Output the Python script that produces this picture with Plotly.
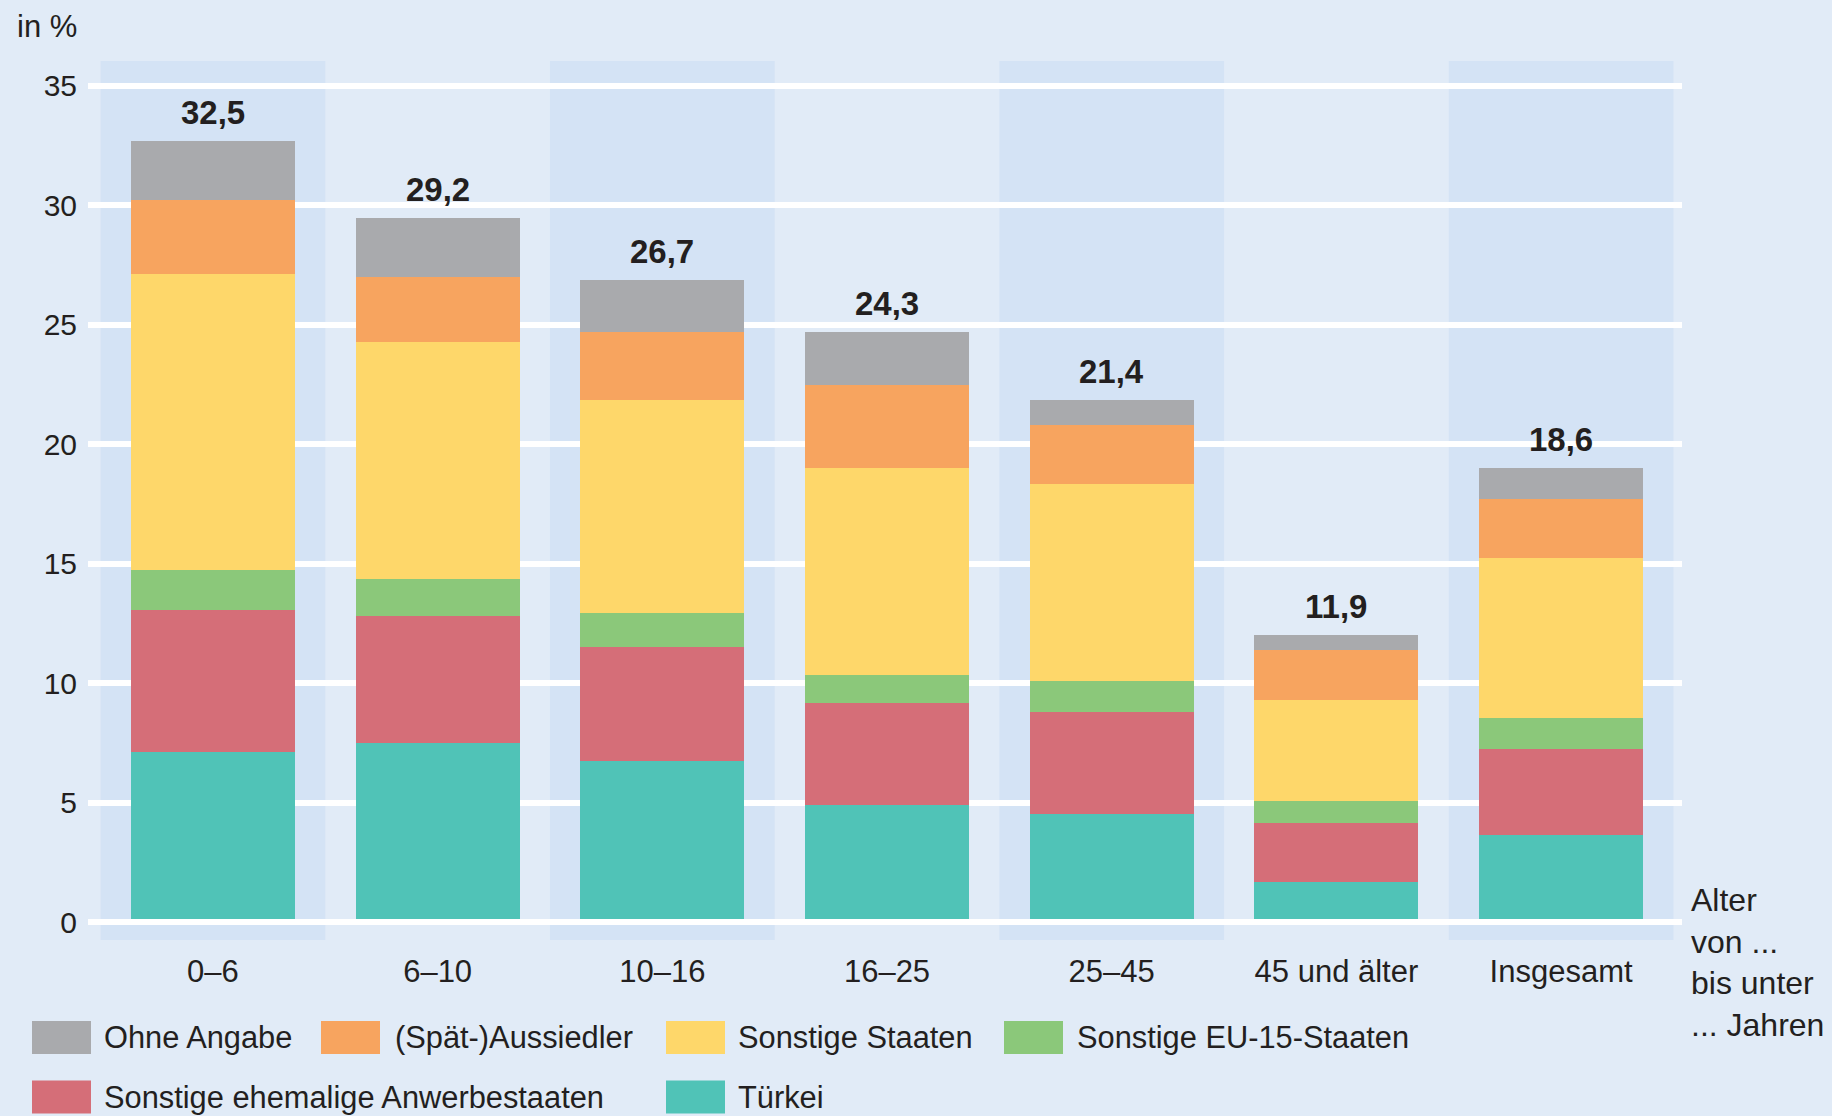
import plotly.graph_objects as go

# ---------------- data ----------------
categories = ["0–6", "6–10", "10–16", "16–25", "25–45", "45 und älter", "Insgesamt"]
tuerkei = [7.13, 7.49, 6.74, 4.90, 4.52, 1.67, 3.64]
anwerbestaaten = [5.92, 5.31, 4.77, 4.26, 4.27, 2.47, 3.60]
eu15 = [1.68, 1.55, 1.42, 1.17, 1.29, 0.92, 1.30]
sonstige_staaten = [12.38, 9.92, 8.91, 8.67, 8.25, 4.23, 6.69]
aussiedler = [3.10, 2.70, 2.85, 3.46, 2.45, 2.09, 2.47]
ohne_angabe = [2.47, 2.49, 2.17, 2.23, 1.06, 0.63, 1.30]
totals = [32.5, 29.2, 26.7, 24.3, 21.4, 11.9, 18.6]
y_ticks = [0, 5, 10, 15, 20, 25, 30, 35]

series_names = ["Türkei", "Sonstige ehemalige Anwerbestaaten", "Sonstige EU-15-Staaten",
                "Sonstige Staaten", "(Spät-)Aussiedler", "Ohne Angabe"]
series_values = [tuerkei, anwerbestaaten, eu15, sonstige_staaten, aussiedler, ohne_angabe]
series_colors = ["#50C3B7", "#D56E78", "#8BC87A", "#FED76A", "#F7A45F", "#A9AAAD"]

# ---------------- style ----------------
FONT = "Liberation Sans, Arial, sans-serif"
TXT = "#231F20"
BG = "#E1EBF7"
BAND = "#D4E3F5"
W, H = 1832, 1116
ML, MR, MT, MB = 88, 150, 61, 176
PW = W - ML - MR
PH = H - MT - MB


def px_x(p):
    return (p - ML) / PW


def px_y(p):
    return (H - MB - p) / PH


fig = go.Figure()
for name, vals, col in zip(series_names, series_values, series_colors):
    fig.add_trace(go.Bar(x=categories, y=vals, name=name, marker_color=col,
                         marker_line_width=0, width=0.73, showlegend=False,
                         hovertemplate="%{x}: %{y}<extra>" + name + "</extra>"))

shapes = []
# alternating background bands
for i in range(0, len(categories), 2):
    shapes.append(dict(type="rect", xref="x", yref="paper", x0=i - 0.5, x1=i + 0.5,
                       y0=0, y1=1, fillcolor=BAND, line_width=0, layer="below"))
# zero line above bars
shapes.append(dict(type="line", xref="paper", yref="y", x0=0, x1=1, y0=0, y1=0,
                   line=dict(color="white", width=6), layer="above"))

annotations = []
# totals above bars
stack_tops = [sum(v[i] for v in series_values) for i in range(len(categories))]
for i, (c, t) in enumerate(zip(categories, totals)):
    annotations.append(dict(x=c, y=stack_tops[i], xref="x", yref="y",
                            text=f"{t:.1f}".replace(".", ","), showarrow=False,
                            yanchor="bottom", yshift=8,
                            font=dict(family=FONT, size=33, color=TXT, weight="bold")))

# unit label
annotations.append(dict(x=px_x(15), y=px_y(27), xref="paper", yref="paper", text="in %",
                        showarrow=False, xanchor="left", yanchor="middle",
                        font=dict(family=FONT, size=31, color=TXT)))
# axis title on right
annotations.append(dict(x=px_x(1689), y=px_y(880), xref="paper", yref="paper",
                        text="Alter<br>von ...<br>bis unter<br>... Jahren", align="left",
                        showarrow=False, xanchor="left", yanchor="top",
                        font=dict(family=FONT, size=32, color=TXT)))

# custom legend (order as in reference)
legend_order = ["Ohne Angabe", "(Spät-)Aussiedler", "Sonstige Staaten", "Sonstige EU-15-Staaten",
                "Sonstige ehemalige Anwerbestaaten", "Türkei"]
slot_swatch_x = [32, 321, 666, 1004, 32, 666]
slot_text_x = [102, 393, 736, 1075, 102, 736]
slot_row_y = [1037.5, 1037.5, 1037.5, 1037.5, 1097, 1097]
for k, name in enumerate(legend_order):
    col = series_colors[series_names.index(name)]
    sx, tx, cy = slot_swatch_x[k], slot_text_x[k], slot_row_y[k]
    shapes.append(dict(type="rect", xref="paper", yref="paper",
                       x0=px_x(sx), x1=px_x(sx + 59), y0=px_y(cy - 16.5), y1=px_y(cy + 16.5),
                       fillcolor=col, line_width=0, layer="above"))
    annotations.append(dict(x=px_x(tx), y=px_y(cy), xref="paper", yref="paper", text=name,
                            showarrow=False, xanchor="left", yanchor="middle",
                            font=dict(family=FONT, size=30.8, color=TXT)))

fig.update_layout(
    width=W, height=H, autosize=False,
    margin=dict(l=ML, r=MR, t=MT, b=MB, pad=0),
    paper_bgcolor=BG, plot_bgcolor=BG,
    barmode="stack", bargap=0.27,
    shapes=shapes, annotations=annotations,
    font=dict(family=FONT, color=TXT),
    xaxis=dict(range=[-0.556, 6.538], showgrid=False, zeroline=False, showline=False,
               ticks="", tickfont=dict(family=FONT, size=31, color=TXT),
               ticklabelstandoff=10, automargin=False, fixedrange=True),
    yaxis=dict(range=[-0.753, 36.025], tickvals=y_ticks, ticktext=[str(v) for v in y_ticks],
               showgrid=True, gridcolor="white", gridwidth=6, zeroline=False,
               showline=False, ticks="", tickfont=dict(family=FONT, size=30, color=TXT),
               ticklabelstandoff=10, automargin=False, fixedrange=True),
)

fig.write_html("out.html", include_plotlyjs=True, config={"displayModeBar": False},
               post_script="document.body.style.margin='0';document.body.style.overflow='hidden';")
